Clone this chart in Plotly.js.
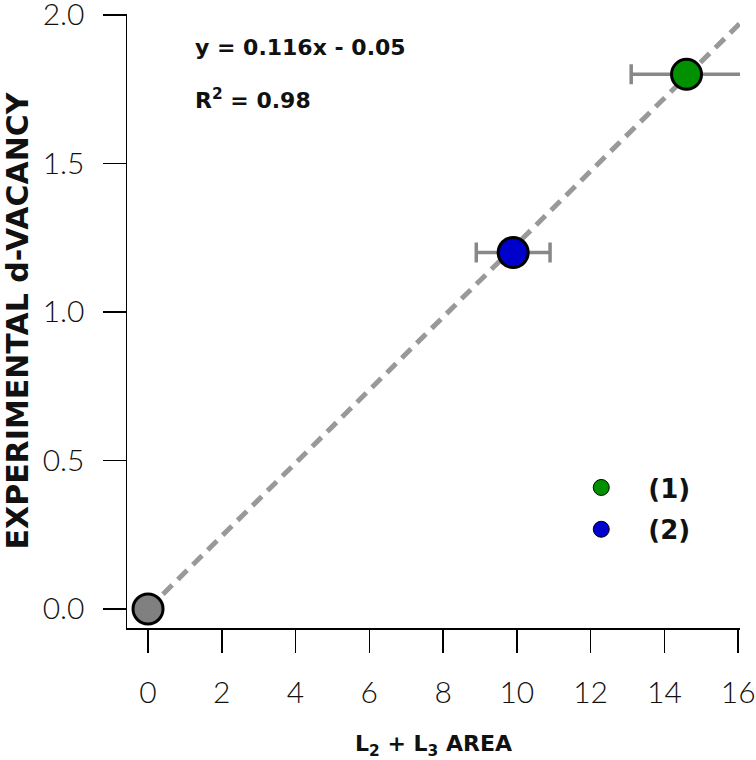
<!DOCTYPE html>
<html>
<head>
<meta charset="utf-8">
<script src="https://cdn.plot.ly/plotly-3.0.1.min.js"></script>
<style>html,body{margin:0;padding:0;background:#fff;}#chart{width:756px;height:760px;}</style>
</head>
<body>
<div id="chart"></div>
<script>
// Data
const originX = [0];
const originY = [0];
const s1X = [14.6];
const s1Y = [1.8];
const s1Err = [1.5];
const s2X = [9.9];
const s2Y = [1.2];
const s2Err = [1.0];
const fitX = [0, 16.2];
const fitY = [0, 1.99];
const xTicks = [0, 2, 4, 6, 8, 10, 12, 14, 16];
const yTicks = [0.0, 0.5, 1.0, 1.5, 2.0];
const legendNames = ['(1)', '(2)'];
const fitText = 'y = 0.116x - 0.05';
const r2Text = 'R<sup>2</sup> = 0.98';

const BOLD = '"DejaVu Sans", Lato, sans-serif';
const annFont = {family: BOLD, size: 22, color: '#111', weight: 'bold'};
const xTitleFont = {family: BOLD, size: 22, color: '#111', weight: 'bold'};
const yTitleFont = {family: BOLD, size: 30, color: '#111', weight: 'bold'};
const legFont = {family: BOLD, size: 26, color: '#111', weight: 'bold'};
const tickFont = {family: 'Lato, "DejaVu Sans", sans-serif', size: 30, color: '#111', weight: 300};

const traces = [
  {x: fitX, y: fitY, mode: 'lines', line: {color: '#999999', width: 5, dash: '13px,8px'}, showlegend: false, hoverinfo: 'skip'},
  {x: originX, y: originY, mode: 'markers', marker: {size: 30, color: '#808080', line: {color: '#000', width: 3}}, showlegend: false, cliponaxis: false},
  {x: s2X, y: s2Y, mode: 'markers', error_x: {type: 'data', array: s2Err, color: '#888888', thickness: 3.5, width: 10}, marker: {size: 30, color: '#0000CC', line: {color: '#000', width: 3}}, showlegend: false, cliponaxis: false},
  {x: s1X, y: s1Y, mode: 'markers', error_x: {type: 'data', array: s1Err, color: '#888888', thickness: 3.5, width: 10}, marker: {size: 30, color: '#009000', line: {color: '#000', width: 3}}, showlegend: false, cliponaxis: false},
  {x: [null], y: [null], mode: 'markers', name: legendNames[0], legendgroup: 'g1', marker: {size: 20, color: '#009000', line: {color: '#000', width: 1}}},
  {x: [null], y: [null], mode: 'markers', name: legendNames[1], legendgroup: 'g2', marker: {size: 20, color: '#0000CC', line: {color: '#000', width: 1}}}
];

const layout = {
  width: 756, height: 760,
  margin: {l: 127, r: 16, t: 14, b: 132},
  paper_bgcolor: '#fff', plot_bgcolor: '#fff',
  showlegend: true,
  legend: {x: 0.697, y: 0.267, xanchor: 'left', yanchor: 'top', font: legFont, bgcolor: 'rgba(0,0,0,0)', itemwidth: 84, traceorder: 'grouped', tracegroupgap: 5},
  xaxis: {
    range: [-0.57, 16.05], tickvals: xTicks, ticktext: xTicks.map(String),
    showgrid: false, zeroline: false, showline: true, linecolor: '#000', linewidth: 1.5,
    ticks: 'outside', ticklen: 23, tickwidth: 1.5, tickcolor: '#000', ticklabelstandoff: 14,
    ticklabeloverflow: 'allow', tickfont: tickFont,
    title: {text: 'L<sub>2</sub> + L<sub>3</sub> AREA', font: xTitleFont, standoff: 28}
  },
  yaxis: {
    range: [-0.064, 2.003], tickvals: yTicks, ticktext: yTicks.map(v => v.toFixed(1)),
    showgrid: false, zeroline: false, showline: true, linecolor: '#000', linewidth: 1.5,
    ticks: 'outside', ticklen: 23, tickwidth: 1.5, tickcolor: '#000', ticklabelstandoff: 12,
    ticklabeloverflow: 'allow', tickfont: tickFont,
    title: {text: 'EXPERIMENTAL d-VACANCY', font: yTitleFont, standoff: 6}
  },
  annotations: [
    {xref: 'paper', yref: 'paper', x: 0.107, y: 0.946, xanchor: 'left', yanchor: 'middle', text: fitText, showarrow: false, font: annFont},
    {xref: 'paper', yref: 'paper', x: 0.107, y: 0.862, xanchor: 'left', yanchor: 'middle', text: r2Text, showarrow: false, font: annFont}
  ]
};

Plotly.newPlot('chart', traces, layout, {displayModeBar: false, staticPlot: true});
</script>
</body>
</html>
